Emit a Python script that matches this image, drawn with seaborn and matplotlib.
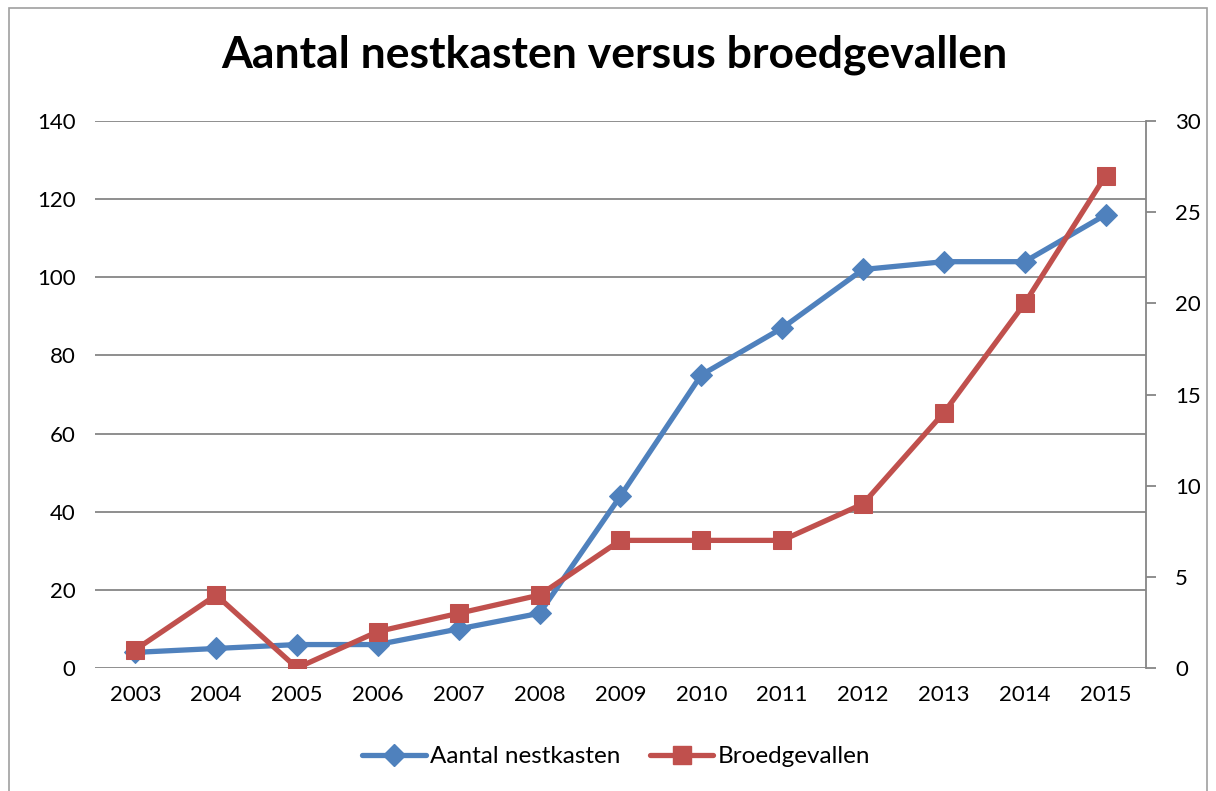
import pandas as pd
import matplotlib.pyplot as plt
import seaborn as sns
from matplotlib.lines import Line2D
from matplotlib.patches import Rectangle


# ////////////////DATA

years = [2003, 2004, 2005, 2006, 2007, 2008, 2009, 2010, 2011, 2012, 2013, 2014, 2015]
nestkasten = [4, 5, 6, 6, 10, 14, 44, 75, 87, 102, 104, 104, 116]
broedgevallen = [1, 4, 0, 2, 3, 4, 7, 7, 7, 9, 14, 20, 27]

df = pd.DataFrame({"Jaar": years, "Aantal nestkasten": nestkasten, "Broedgevallen": broedgevallen})

blue = "#4F81BD"
red = "#C0504D"
grid_col = "#868686"


# ////////////////PLOT

sns.set_style("white")
plt.rcParams["font.family"] = ["Lato", "DejaVu Sans"]
plt.rcParams["text.color"] = "black"
plt.rcParams["xtick.color"] = "black"
plt.rcParams["ytick.color"] = "black"

fig = plt.figure(figsize=(12.16, 7.91), dpi=100)
ax = fig.add_axes([0.078, 0.1555, 0.8644, 0.6915])
ax2 = ax.twinx()

sns.lineplot(data=df, x="Jaar", y="Aantal nestkasten", ax=ax, color=blue, lw=3.8,
             marker="D", markersize=11, markeredgecolor=blue, zorder=3)
sns.lineplot(data=df, x="Jaar", y="Broedgevallen", ax=ax2, color=red, lw=3.8,
             marker="s", markersize=13, markeredgecolor=red, zorder=4)

ax.set_xlim(years[0] - 0.5, years[-1] + 0.5)
ax.set_ylim(0, 140)
ax2.set_ylim(0, 30)
ax.set_yticks(range(0, 141, 20))
ax2.set_yticks(range(0, 31, 5))
ax.set_xticks(years)
ax.set_xticklabels([str(y) for y in years])

ax.yaxis.grid(True, color=grid_col, lw=1.3)
ax.set_axisbelow(True)
for a in (ax, ax2):
    for s in a.spines.values():
        s.set_visible(False)
    a.set_xlabel("")
    a.set_ylabel("")
ax2.spines["right"].set_visible(True)
ax2.spines["right"].set_color(grid_col)
ax2.spines["right"].set_linewidth(1.3)

ax.tick_params(axis="both", length=0, labelsize=16, pad=14, labelcolor="black")
ax.tick_params(axis="x", pad=12)
ax2.tick_params(axis="y", length=7, width=1.3, color=grid_col, labelsize=16, pad=14, labelcolor="black")

fig.suptitle("Aantal nestkasten versus broedgevallen", fontsize=32, fontweight="bold",
             color="black", x=0.505, y=0.957)

handles = [
    Line2D([], [], color=blue, lw=3.8, marker="D", markersize=11),
    Line2D([], [], color=red, lw=3.8, marker="s", markersize=13),
]
fig.legend(handles, ["Aantal nestkasten", "Broedgevallen"], loc="center", bbox_to_anchor=(0.507, 0.043),
           ncol=2, frameon=False, fontsize=17.5, handlelength=2.6, columnspacing=1.2, handletextpad=0.2)

fig.patches.append(Rectangle((0.007, -0.01), 0.986, 1.0, transform=fig.transFigure,
                             fill=False, edgecolor="#A0A0A0", lw=1.2))

plt.savefig("out.png", dpi=100)
